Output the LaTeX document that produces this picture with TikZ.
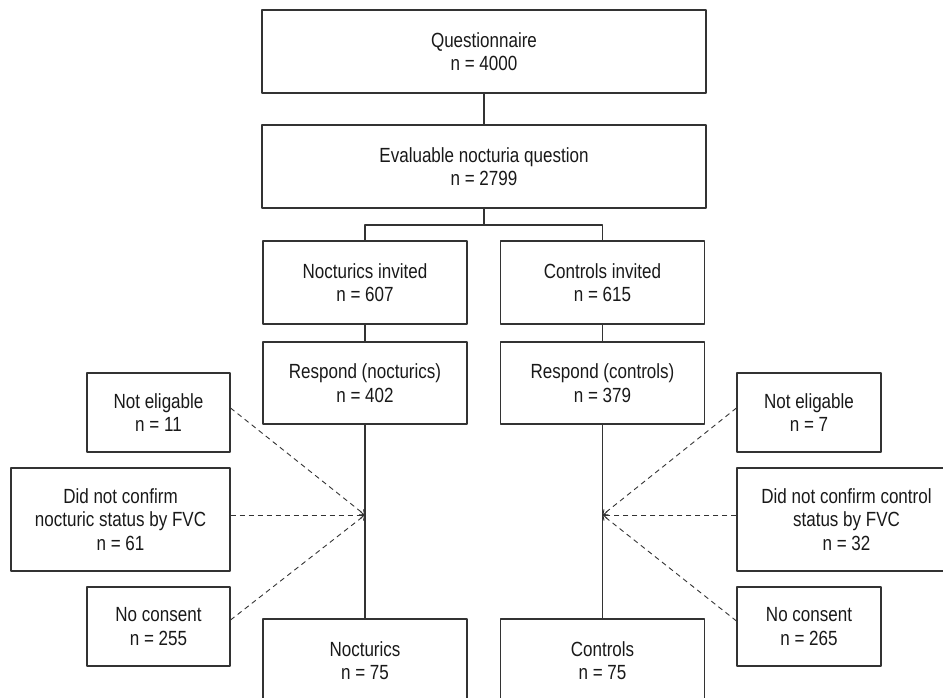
\documentclass[tikz,border=0pt]{standalone}
\usepackage{fontspec}
\setmainfont{Liberation Sans}[FakeStretch=0.83]
\usetikzlibrary{arrows.meta}
\tikzset{
  flowbox/.style={draw=black!80, line width=1.1pt, align=center, inner sep=0pt,
    text=black!90, font=\fontsize{20.5}{23.5}\selectfont},
  flowline/.style={draw=black!80, line width=1.1pt},
  dropline/.style={draw=black!80, line width=0.9pt, dash pattern=on 5pt off 4pt,
    -{Straight Barb[length=4pt,width=7pt]}}
}
\begin{document}
\begin{tikzpicture}[x=1pt,y=-1pt,line join=round]
		\useasboundingbox (0,0) rectangle (943,698);
		% main column
		\node[flowbox,minimum width=444,minimum height=83] (quest) at (484,51.5) {Questionnaire\\n = 4000};
		\node[flowbox,minimum width=444,minimum height=83] (eval) at (484,166.5) {Evaluable nocturia question\\n = 2799};
		\node[flowbox,minimum width=204,minimum height=83] (nocinv) at (365,282.5) {Nocturics invited\\n = 607};
		\node[flowbox,minimum width=204,minimum height=83] (coninv) at (602.5,282.5) {Controls invited\\n = 615};
		\node[flowbox,minimum width=204,minimum height=82] (nocresp) at (365,383) {Respond (nocturics)\\n = 402};
		\node[flowbox,minimum width=204,minimum height=82] (conresp) at (602.5,383) {Respond (controls)\\n = 379};
		\node[flowbox,minimum width=204,minimum height=83] (noc) at (365,660.5) {Nocturics\\n = 75};
		\node[flowbox,minimum width=204,minimum height=83] (con) at (602.5,660.5) {Controls\\n = 75};
		% exclusions
		\node[flowbox,minimum width=143,minimum height=79] (lne) at (158.5,412.5) {Not eligable\\n = 11};
		\node[flowbox,minimum width=219,minimum height=103] (ldnc) at (120.5,519.5) {Did not confirm\\nocturic status by FVC\\n = 61};
		\node[flowbox,minimum width=143,minimum height=79] (lnc) at (158.5,626.5) {No consent\\n = 255};
		\node[flowbox,minimum width=144,minimum height=79] (rne) at (809,412.5) {Not eligable\\n = 7};
		\node[flowbox,minimum width=219,minimum height=103] (rdnc) at (846.5,519.5) {Did not confirm control\\status by FVC\\n = 32};
		\node[flowbox,minimum width=144,minimum height=79] (rnc) at (809,626.5) {No consent\\n = 265};
		\coordinate (fork) at (484,225);
		\coordinate (lhit) at (365,515);
		\coordinate (rhit) at (602.5,515);
		% connectors
		\draw[flowline] (quest.south) -- (eval.north);
		\draw[flowline] (eval.south) -- (fork);
		\draw[flowline] (nocinv.north) |- (fork) -| (coninv.north);
		\draw[flowline] (nocinv.south) -- (nocresp.north);
		\draw[flowline] (coninv.south) -- (conresp.north);
		\draw[flowline] (nocresp.south) -- (noc.north);
		\draw[flowline] (conresp.south) -- (con.north);
		\draw[dropline] ([yshift=4.5pt]lne.east) -- (lhit);
		\draw[dropline] (lhit -| ldnc.east) -- (lhit);
		\draw[dropline] ([yshift=6.5pt]lnc.east) -- (lhit);
		\draw[dropline] ([yshift=4.5pt]rne.west) -- (rhit);
		\draw[dropline] (rhit -| rdnc.west) -- (rhit);
		\draw[dropline] ([yshift=5.5pt]rnc.west) -- (rhit);
		\end{tikzpicture}
\end{document}
